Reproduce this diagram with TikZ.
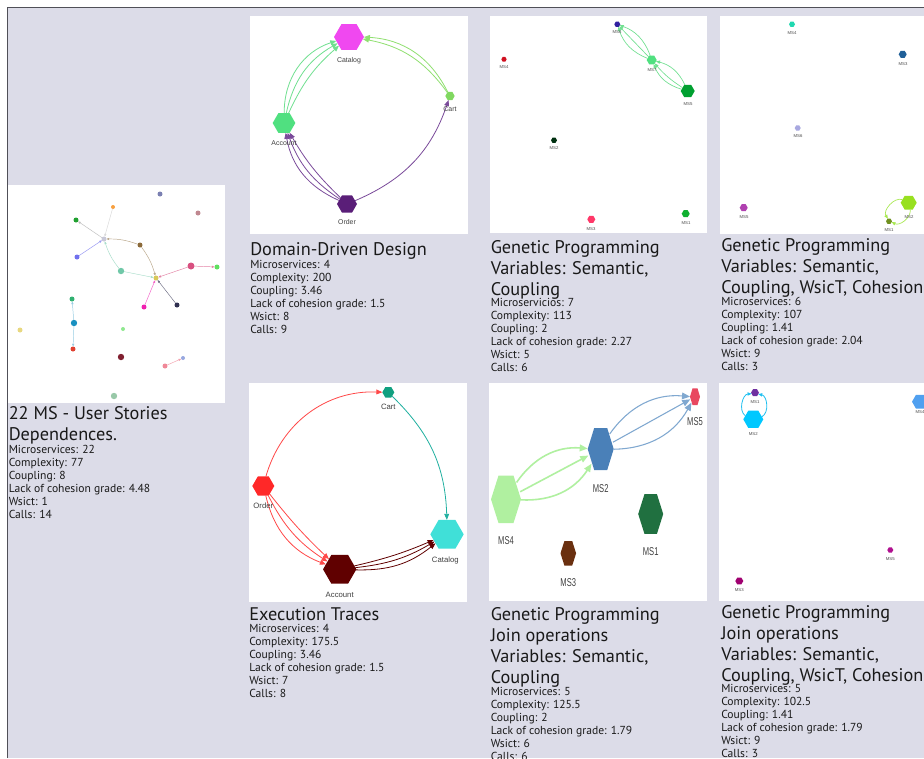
\documentclass[tikz,border=0pt]{standalone}
\usepackage{fontspec}
\setmainfont{PT Sans}
\newfontfamily\vislabel{Liberation Sans}
\usetikzlibrary{shapes.geometric, arrows.meta, positioning}

\definecolor{canvas}{HTML}{DCDCE8}
\definecolor{frameline}{HTML}{505058}
\definecolor{us01}{HTML}{7B80B2}
\definecolor{us02}{HTML}{C08890}
\definecolor{us03}{HTML}{F8A040}
\definecolor{us04}{HTML}{20A030}
\definecolor{us05}{HTML}{C8C8D8}
\definecolor{us06}{HTML}{8B6A3A}
\definecolor{us07}{HTML}{7070EE}
\definecolor{us08}{HTML}{70C8A8}
\definecolor{us09}{HTML}{D8C858}
\definecolor{us10}{HTML}{D85080}
\definecolor{us11}{HTML}{60E060}
\definecolor{us12}{HTML}{30B070}
\definecolor{us13}{HTML}{F020B0}
\definecolor{us14}{HTML}{303050}
\definecolor{us15}{HTML}{E8D880}
\definecolor{us16}{HTML}{1890C0}
\definecolor{us17}{HTML}{90E890}
\definecolor{us18}{HTML}{E04030}
\definecolor{us19}{HTML}{802030}
\definecolor{us20}{HTML}{98A8E0}
\definecolor{us21}{HTML}{F08898}
\definecolor{us22}{HTML}{98C8A8}
\definecolor{ddcat}{HTML}{F048F0}
\definecolor{ddcart}{HTML}{80D860}
\definecolor{ddacc}{HTML}{50E080}
\definecolor{ddord}{HTML}{5A1E78}
\definecolor{ddgreen}{HTML}{70E090}
\definecolor{ddlime}{HTML}{90E070}
\definecolor{ddpurp}{HTML}{7A4A9A}
\definecolor{gp1c1}{HTML}{10B030}
\definecolor{gp1c2}{HTML}{003010}
\definecolor{gp1c3}{HTML}{FF3868}
\definecolor{gp1c4}{HTML}{D01020}
\definecolor{gp1c5}{HTML}{00A030}
\definecolor{gp1c6}{HTML}{3020A0}
\definecolor{gp1c7}{HTML}{50E080}
\definecolor{gpgreen}{HTML}{70E090}
\definecolor{gp2c1}{HTML}{709020}
\definecolor{gp2c2}{HTML}{98E020}
\definecolor{gp2c3}{HTML}{206098}
\definecolor{gp2c4}{HTML}{20D8B0}
\definecolor{gp2c5}{HTML}{B040B0}
\definecolor{gp2c6}{HTML}{A8A8E0}
\definecolor{gplime}{HTML}{A8E850}
\definecolor{etcart}{HTML}{10A080}
\definecolor{etord}{HTML}{FF2828}
\definecolor{etacc}{HTML}{600000}
\definecolor{etcat}{HTML}{40E0D8}
\definecolor{etred}{HTML}{FF4848}
\definecolor{etteal}{HTML}{20B0A0}
\definecolor{etdark}{HTML}{600000}
\definecolor{gj1c1}{HTML}{207040}
\definecolor{gj1c2}{HTML}{4A80B8}
\definecolor{gj1c3}{HTML}{6A3010}
\definecolor{gj1c4}{HTML}{B0F0A0}
\definecolor{gj1c5}{HTML}{E84860}
\definecolor{gjgreen}{HTML}{B0F0A0}
\definecolor{gjblue}{HTML}{80A8D0}
\definecolor{gj2c1}{HTML}{7030A0}
\definecolor{gj2c2}{HTML}{00C8FF}
\definecolor{gj2c3}{HTML}{A00070}
\definecolor{gj2c4}{HTML}{50A0F0}
\definecolor{gj2c5}{HTML}{B0108F}
\definecolor{gjcyan}{HTML}{20C0F0}

\tikzset{
  usdot/.style   = {circle, inner sep=0pt, outer sep=0pt, minimum size=#1},
  hexms/.style   = {regular polygon, regular polygon sides=6, inner sep=0pt,
                    outer sep=0pt, minimum size=#1},
  hexhold/.style = {ellipse, inner sep=0pt, outer sep=0pt},
  mslab/.style   = {font=\vislabel\fontsize{5.2}{6}\selectfont, text=black!75,
                    inner sep=0pt},
  tinylab/.style = {font=\vislabel\fontsize{3.2}{4}\selectfont, text=black!70,
                    inner sep=0pt},
  ttl/.style     = {anchor=north west, align=left, inner sep=0pt,
                    font=\fontsize{13.7}{15.75}\selectfont, text=black!90},
  met/.style     = {anchor=north west, align=left, inner sep=0pt,
                    font=\fontsize{8.7}{9.75}\selectfont, text=black!90},
  usedge/.style  = {-{Triangle[length=2pt, width=1.6pt]}, line width=0.35pt},
  dep/.style     = {-{Triangle[length=4.5pt, width=3.6pt]}, line width=0.6pt},
  bigdep/.style  = {-{Triangle[length=6pt, width=5pt]}},
  gpdep/.style   = {-{Triangle[length=3pt, width=2.4pt]}, line width=0.5pt},
}

\newcommand{\tallhex}[6]{%
  \node[hexhold, minimum width=#4*1.5pt, minimum height=#5*1.5pt] (#1) at (#2,#3) {};
  \fill[#6] (#2-#4,#3) -- (#2-#4/2,#3-#5) -- (#2+#4/2,#3-#5) -- (#2+#4,#3)
    -- (#2+#4/2,#3+#5) -- (#2-#4/2,#3+#5) -- cycle;}

\begin{document}
\begin{tikzpicture}[x=0.75pt, y=-0.75pt]
  \useasboundingbox (0,0) rectangle (924,758);
  \fill[white] (0,0) rectangle (924,758);
  \fill[canvas] (7,7) rectangle (924,758);
  \draw[frameline, line width=0.75pt] (7,758) -- (7,7) -- (924,7);

  \fill[white] (7.5,185) rectangle (225,403);
  \fill[white] (250,16) rectangle (468,234);
  \fill[white] (490,16) rectangle (707,233);
  \fill[white] (720,16) rectangle (930,234);
  \fill[white] (249,383) rectangle (467,602);
  \fill[white] (489,383) rectangle (707,601);
  \fill[white] (719,383) rectangle (930,601);

  \node[usdot=3.75pt, fill=us01] (us01) at (160,194) {};
  \node[usdot=3.75pt, fill=us02] (us02) at (198,213) {};
  \node[usdot=3pt,    fill=us03] (us03) at (113,207) {};
  \node[usdot=3.75pt, fill=us04] (us04) at (76,220) {};
  \node[usdot=3.75pt, fill=us05] (us05) at (104,239) {};
  \node[usdot=3.75pt, fill=us06] (us06) at (140,245) {};
  \node[usdot=3.75pt, fill=us07] (us07) at (77,257) {};
  \node[usdot=4.8pt,  fill=us08] (us08) at (121,271) {};
  \node[usdot=3.75pt, fill=us09] (us09) at (156,278) {};
  \node[usdot=5.25pt, fill=us10] (us10) at (191,266) {};
  \node[usdot=3.75pt, fill=us11] (us11) at (217,267) {};
  \node[usdot=3.75pt, fill=us12] (us12) at (72,299) {};
  \node[usdot=3.75pt, fill=us13] (us13) at (144,307) {};
  \node[usdot=3.75pt, fill=us14] (us14) at (177,305) {};
  \node[usdot=3.75pt, fill=us15] (us15) at (20,330) {};
  \node[usdot=4.8pt,  fill=us16] (us16) at (74,323) {};
  \node[usdot=3pt,    fill=us17] (us17) at (123,329) {};
  \node[usdot=3.75pt, fill=us18] (us18) at (73,349) {};
  \node[usdot=4.8pt,  fill=us19] (us19) at (121,357) {};
  \node[usdot=3pt,    fill=us20] (us20) at (183,358) {};
  \node[usdot=3.75pt, fill=us21] (us21) at (165,366) {};
  \node[usdot=4.8pt,  fill=us22] (us22) at (114,396) {};
  \draw[usedge, draw=black!25] (us05) -- (us04);
  \draw[usedge, draw=black!15] (us03) -- (us05);
  \draw[usedge, draw=us07!70] (us07) -- (us05);
  \draw[usedge, draw=us06!60] (us06) to[bend right=10] (us05);
  \draw[usedge, draw=us06!60] (us06) to[bend left=10] (us09);
  \draw[usedge, draw=us08!60] (us08) to[bend left=10] (us05);
  \draw[usedge, draw=us08!60] (us08) -- (us09);
  \draw[usedge, draw=us10!70] (us10) -- (us09);
  \draw[usedge, draw=us10!70] (us10) -- (us11);
  \draw[usedge, draw=us13!70] (us13) -- (us09);
  \draw[usedge, draw=us14!70] (us14) -- (us09);
  \draw[usedge, draw=us16!45] (us16) -- (us12);
  \draw[usedge, draw=us16!45] (us16) -- (us18);
  \draw[usedge, draw=us21!80] (us21) -- (us20);

  \node[hexms=22.5pt, fill=ddcat]  (ddcat)  at (349,37) {};
  \node[hexms=7pt,    fill=ddcart] (ddcart) at (450,96) {};
  \node[hexms=17pt,   fill=ddacc]  (ddacc)  at (284,123) {};
  \node[hexms=15pt,   fill=ddord]  (ddord)  at (347,204) {};
  \draw[dep, draw=ddgreen] (ddacc) to[bend left=12] (ddcat);
  \draw[dep, draw=ddgreen] (ddacc) to[bend left=24] (ddcat);
  \draw[dep, draw=ddgreen] (ddacc) to[bend left=36] (ddcat);
  \draw[dep, draw=ddlime] (ddcart) to[bend right=22] (ddcat);
  \draw[dep, draw=ddlime] (ddcart) to[bend right=30] (ddcat);
  \draw[dep, draw=ddpurp] (ddord) to[bend left=8] (ddacc);
  \draw[dep, draw=ddpurp] (ddord) to[bend left=18] (ddacc);
  \draw[dep, draw=ddpurp] (ddord) to[bend left=28] (ddacc);
  \draw[dep, draw=ddpurp] (ddord) to[bend right=24] (ddcart);
  \node[mslab] (ddcatlab)  at (349,61)  {Catalog};
  \node[mslab] (ddcartlab) at (450,109) {Cart};
  \node[mslab] (ddacclab)  at (284,143) {Account};
  \node[mslab] (ddordlab)  at (347,222) {Order};

  \node[hexms=4.5pt,  fill=gp1c6] (gp1m6) at (617.3,24.3) {};
  \node[hexms=4pt,    fill=gp1c4] (gp1m4) at (504,59.3) {};
  \node[hexms=7.5pt,  fill=gp1c7] (gp1m7) at (651.7,60) {};
  \node[hexms=10.5pt, fill=gp1c5] (gp1m5) at (687.7,91) {};
  \node[hexms=4.5pt,  fill=gp1c2] (gp1m2) at (554,140.3) {};
  \node[hexms=6pt,    fill=gp1c3] (gp1m3) at (591.3,219.3) {};
  \node[hexms=6pt,    fill=gp1c1] (gp1m1) at (685.7,213.7) {};
  \draw[gpdep, draw=gpgreen] (gp1m7) to[bend left=25] (gp1m6);
  \draw[gpdep, draw=gpgreen] (gp1m7) -- (gp1m6);
  \draw[gpdep, draw=gpgreen] (gp1m7) to[bend right=25] (gp1m6);
  \draw[gpdep, draw=gpgreen] (gp1m5) to[bend left=25] (gp1m7);
  \draw[gpdep, draw=gpgreen] (gp1m5) to[bend left=8] (gp1m7);
  \draw[gpdep, draw=gpgreen] (gp1m5) to[bend right=25] (gp1m7);
  \node[tinylab] (gp1l6) at (617,32)  {MS6};
  \node[tinylab] (gp1l4) at (504,67)  {MS4};
  \node[tinylab] (gp1l7) at (652,70)  {MS7};
  \node[tinylab] (gp1l5) at (688,104) {MS5};
  \node[tinylab] (gp1l2) at (554,148) {MS2};
  \node[tinylab] (gp1l3) at (591,229) {MS3};
  \node[tinylab] (gp1l1) at (686,223) {MS1};

  \node[hexms=4.5pt, fill=gp2c4] (gp2m4) at (792,24.3) {};
  \node[hexms=6pt,   fill=gp2c3] (gp2m3) at (902.7,54.3) {};
  \node[hexms=4.5pt, fill=gp2c6] (gp2m6) at (797.7,128) {};
  \node[hexms=6pt,   fill=gp2c5] (gp2m5) at (743.7,207.7) {};
  \node[hexms=12pt,  fill=gp2c2] (gp2m2) at (908.7,202.7) {};
  \node[hexms=4.5pt, fill=gp2c1] (gp2m1) at (889,221.3) {};
  \draw[gpdep, draw=gplime] (gp2m2) to[bend right=70] (gp2m1);
  \draw[gpdep, draw=gplime] (gp2m2) to[bend left=60] (gp2m1);
  \node[tinylab] (gp2l4) at (792,33)  {MS4};
  \node[tinylab] (gp2l3) at (903,64)  {MS3};
  \node[tinylab] (gp2l6) at (798,136) {MS6};
  \node[tinylab] (gp2l5) at (744,217) {MS5};
  \node[tinylab] (gp2l2) at (909,217) {MS2};
  \node[tinylab] (gp2l1) at (889,230) {MS1};

  \node[hexms=9pt,    fill=etcart] (etcart) at (388.3,392.3) {};
  \node[hexms=16.5pt, fill=etord]  (etord)  at (263.3,486) {};
  \node[hexms=25pt,   fill=etacc]  (etacc)  at (339.7,569.3) {};
  \node[hexms=25pt,   fill=etcat]  (etcat)  at (447,534.3) {};
  \draw[dep, draw=etred] (etord) to[bend left=38] (etcart);
  \draw[dep, draw=etteal] (etcart) to[bend left=22] (etcat);
  \draw[dep, draw=etred] (etord) to[bend right=4] (etacc);
  \draw[dep, draw=etred] (etord) to[bend right=15] (etacc);
  \draw[dep, draw=etred] (etord) to[bend right=28] (etacc);
  \draw[dep, draw=etdark] (etacc) to[bend right=5] (etcat);
  \draw[dep, draw=etdark] (etacc) to[bend right=12] (etcat);
  \draw[dep, draw=etdark] (etacc) to[bend right=20] (etcat);
  \node[mslab, font=\vislabel\fontsize{5.8}{7}\selectfont] (etcartlab) at (388.3,407.3) {Cart};
  \node[mslab, font=\vislabel\fontsize{5.8}{7}\selectfont] (etordlab)  at (263.3,506)   {Order};
  \node[mslab, font=\vislabel\fontsize{5.8}{7}\selectfont] (etacclab)  at (339.7,595)   {Account};
  \node[mslab, font=\vislabel\fontsize{5.8}{7}\selectfont] (etcatlab)  at (445.3,560.3) {Catalog};

  \tallhex{gj1m4}{506}{499.3}{15}{23.7}{gj1c4}
  \tallhex{gj1m2}{600.7}{449}{13}{21}{gj1c2}
  \tallhex{gj1m5}{695}{396.7}{5}{8.3}{gj1c5}
  \tallhex{gj1m1}{650.7}{514}{12.5}{19.8}{gj1c1}
  \tallhex{gj1m3}{568.3}{553.3}{7.8}{12.3}{gj1c3}
  \draw[bigdep, draw=gjgreen, line width=1.2pt] (gj1m4) to[bend left=30] (gj1m2);
  \draw[bigdep, draw=gjgreen, line width=1.2pt] (gj1m4) -- (gj1m2);
  \draw[bigdep, draw=gjgreen, line width=1.2pt] (gj1m4) to[bend right=30] (gj1m2);
  \draw[bigdep, draw=gjblue, line width=0.8pt] (gj1m2) to[bend left=30] (gj1m5);
  \draw[bigdep, draw=gjblue, line width=0.8pt] (gj1m2) -- (gj1m5);
  \draw[bigdep, draw=gjblue, line width=0.8pt] (gj1m2) to[bend right=30] (gj1m5);
  \node[mslab, font=\vislabel\fontsize{5.7}{7}\selectfont] (gj1l4) at (506,540.7)   {\scalebox{1}[1.5]{MS4}};
  \node[mslab, font=\vislabel\fontsize{5.7}{7}\selectfont] (gj1l2) at (600.7,488.3) {\scalebox{1}[1.5]{MS2}};
  \node[mslab, font=\vislabel\fontsize{5.7}{7}\selectfont] (gj1l5) at (695,421.7)   {\scalebox{1}[1.5]{MS5}};
  \node[mslab, font=\vislabel\fontsize{5.7}{7}\selectfont] (gj1l1) at (650.7,551.7) {\scalebox{1}[1.5]{MS1}};
  \node[mslab, font=\vislabel\fontsize{5.7}{7}\selectfont] (gj1l3) at (568.3,582.3) {\scalebox{1}[1.5]{MS3}};

  \node[hexms=6pt,   fill=gj2c1] (gj2m1) at (755,392.7) {};
  \node[hexms=15pt,  fill=gj2c2] (gj2m2) at (753.3,419.3) {};
  \node[hexms=12pt,  fill=gj2c4] (gj2m4) at (920,401.7) {};
  \node[hexms=4.5pt, fill=gj2c5] (gj2m5) at (890.3,550) {};
  \node[hexms=6pt,   fill=gj2c3] (gj2m3) at (739.3,581) {};
  \draw[gpdep, draw=gjcyan, line width=0.6pt] (gj2m2) to[bend left=70] (gj2m1);
  \draw[gpdep, draw=gjcyan, line width=0.6pt] (gj2m2) to[bend right=70] (gj2m1);
  \node[tinylab] (gj2l1) at (755,402)     {MS1};
  \node[tinylab] (gj2l2) at (753.3,433.7) {MS2};
  \node[tinylab] (gj2l4) at (920,412.3)   {MS4};
  \node[tinylab] (gj2l5) at (890.3,558.7) {MS5};
  \node[tinylab] (gj2l3) at (739.3,590)   {MS3};

  \node[ttl] (ustitle) at (8.5,406) {22 MS - User Stories\\Dependences.};
  \node[met] (usmet) at (8.5,444.8)
    {Microservices: 22\\Complexity: 77\\Coupling: 8\\Lack of cohesion grade: 4.48\\Wsict: 1\\Calls: 14};
  \node[ttl] (ddtitle) at (250,241.8) {Domain-Driven Design};
  \node[met] (ddmet) at (250,259.5)
    {Microservices: 4\\Complexity: 200\\Coupling: 3.46\\Lack of cohesion grade: 1.5\\Wsict: 8\\Calls: 9};
  \node[ttl] (gp1title) at (490.5,240.1) {Genetic Programming\\Variables: Semantic,\\Coupling};
  \node[met] (gp1met) at (490.5,298.5)
    {Microservicios: 7\\Complexity: 113\\Coupling: 2\\Lack of cohesion grade: 2.27\\Wsict: 5\\Calls: 6};
  \node[ttl] (gp2title) at (721,237.8) {Genetic Programming\\Variables: Semantic,\\Coupling, WsicT, Cohesion};
  \node[met] (gp2met) at (721,296.5)
    {Microservices: 6\\Complexity: 107\\Coupling: 1.41\\Lack of cohesion grade: 2.04\\Wsict: 9\\Calls: 3};
  \node[ttl] (ettitle) at (249,607.3) {Execution Traces};
  \node[met] (etmet) at (249,623.5)
    {Microservices: 4\\Complexity: 175.5\\Coupling: 3.46\\Lack of cohesion grade: 1.5\\Wsict: 7\\Calls: 8};
  \node[ttl] (gj1title) at (490.5,607) {Genetic Programming\\Join operations\\Variables: Semantic,\\Coupling};
  \node[met] (gj1met) at (490.5,687.5)
    {Microservices: 5\\Complexity: 125.5\\Coupling: 2\\Lack of cohesion grade: 1.79\\Wsict: 6\\Calls: 6};
  \node[ttl] (gj2title) at (721,604.8) {Genetic Programming\\Join operations\\Variables: Semantic,\\Coupling, WsicT, Cohesion};
  \node[met] (gj2met) at (721,684.5)
    {Microservices: 5\\Complexity: 102.5\\Coupling: 1.41\\Lack of cohesion grade: 1.79\\Wsict: 9\\Calls: 3};
\end{tikzpicture}
\end{document}
